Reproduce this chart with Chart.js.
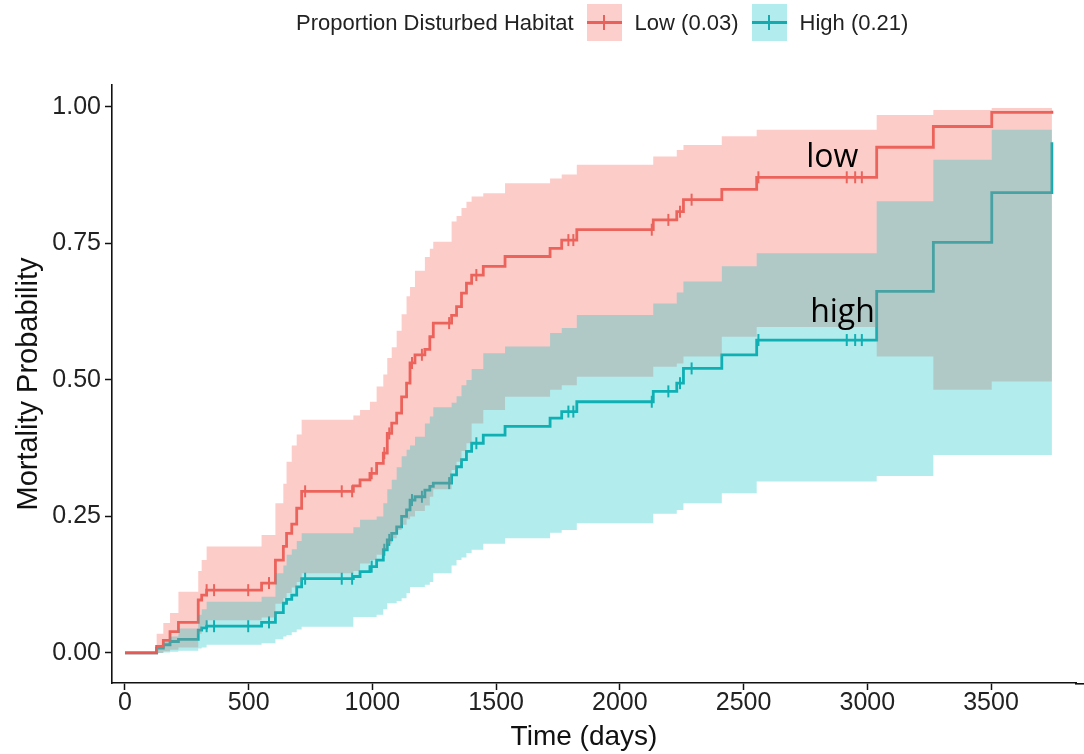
<!DOCTYPE html>
<html>
<head>
<meta charset="utf-8">
<script src="https://cdn.jsdelivr.net/npm/chart.js@4.4.1/dist/chart.umd.min.js"></script>
<style>
  html, body { margin: 0; padding: 0; background: #fff; }
  #wrap { position: relative; width: 1084px; height: 754px; font-family: "Liberation Sans", Arial, sans-serif; }
  #legend { position: absolute; top: 4px; left: 296px; height: 37px; display: flex; align-items: center; font-size: 22px; color: #222; white-space: nowrap; }
  .key { width: 35px; height: 37px; position: relative; margin: 0 13px 0 13px; }
  .key .h { position: absolute; left: 0; right: 0; top: 17px; height: 3px; }
  .key .v { position: absolute; left: 16px; width: 2px; top: 11px; height: 15px; }
</style>
</head>
<body>
<div id="wrap">
  <canvas id="chart" width="1084" height="754"></canvas>
  <div id="legend">
    <span>Proportion Disturbed Habitat</span>
    <div class="key" style="background:#fccfcc"><div class="h" style="background:#e8625b"></div><div class="v" style="background:#e8625b"></div></div>
    <span>Low (0.03)</span>
    <div class="key" style="background:#b3ecee"><div class="h" style="background:#16a9ae"></div><div class="v" style="background:#16a9ae"></div></div>
    <span>High (0.21)</span>
  </div>
</div>
<script>
// step times (days) shared by both adjusted curves
const stepDays = [0, 128, 155, 182, 216, 296, 310, 330, 552, 608,
  640, 653, 674, 694, 714, 923, 950, 990, 1017, 1044,
  1060, 1078, 1098, 1118, 1138, 1152, 1172, 1212, 1232, 1246,
  1320, 1340, 1360, 1380, 1401, 1448, 1536, 1718, 1765, 1826,
  2135, 2230, 2257, 2412, 2553, 3038, 3267, 3503, 3746];

const lowRisk = [0, 0.012, 0.023, 0.039, 0.056, 0.097, 0.106, 0.115, 0.128, 0.170,
  0.195, 0.219, 0.236, 0.265, 0.296, 0.306, 0.317, 0.329, 0.347, 0.366,
  0.402, 0.421, 0.439, 0.469, 0.494, 0.531, 0.546, 0.556, 0.579, 0.604,
  0.618, 0.634, 0.659, 0.677, 0.692, 0.708, 0.726, 0.741, 0.756, 0.775,
  0.793, 0.808, 0.830, 0.849, 0.871, 0.926, 0.964, 0.990, 0.993];

const highRisk = [0, 0.009, 0.015, 0.021, 0.025, 0.042, 0.046, 0.049, 0.056, 0.074,
  0.091, 0.098, 0.106, 0.121, 0.136, 0.140, 0.149, 0.158, 0.170, 0.189,
  0.207, 0.219, 0.231, 0.250, 0.262, 0.280, 0.286, 0.298, 0.305, 0.311,
  0.326, 0.341, 0.354, 0.369, 0.384, 0.399, 0.415, 0.430, 0.442, 0.460,
  0.479, 0.494, 0.521, 0.546, 0.573, 0.662, 0.752, 0.843, 0.935];

const lowUpper = [0, 0.035, 0.055, 0.073, 0.112, 0.15, 0.17, 0.195, 0.216, 0.274,
  0.31, 0.35, 0.38, 0.40, 0.427, 0.435, 0.445, 0.46, 0.488, 0.51,
  0.54, 0.56, 0.59, 0.62, 0.653, 0.67, 0.70, 0.725, 0.74, 0.753,
  0.79, 0.80, 0.815, 0.826, 0.836, 0.842, 0.86, 0.869, 0.876, 0.894,
  0.909, 0.921, 0.930, 0.946, 0.958, 0.985, 0.994, 0.998, 0.998];

const lowLower = [0, 0, 0.003, 0.006, 0.01, 0.035, 0.05, 0.06, 0.065, 0.09,
  0.10, 0.11, 0.12, 0.13, 0.146, 0.15, 0.164, 0.17, 0.18, 0.189,
  0.20, 0.21, 0.225, 0.235, 0.245, 0.25, 0.26, 0.27, 0.286, 0.30,
  0.335, 0.35, 0.37, 0.384, 0.42, 0.445, 0.469, 0.482, 0.49, 0.506,
  0.524, 0.53, 0.543, 0.579, 0.597, 0.543, 0.482, 0.497, 0.497];

const highUpper = [0, 0.01, 0.02, 0.03, 0.045, 0.07, 0.08, 0.094, 0.103, 0.146,
  0.16, 0.18, 0.19, 0.205, 0.219, 0.23, 0.244, 0.244, 0.25, 0.274,
  0.30, 0.317, 0.34, 0.36, 0.372, 0.38, 0.396, 0.42, 0.433, 0.45,
  0.458, 0.47, 0.49, 0.50, 0.52, 0.549, 0.561, 0.586, 0.595, 0.619,
  0.64, 0.66, 0.68, 0.708, 0.732, 0.827, 0.903, 0.958, 0.958];

const highLower = [0, 0, 0.001, 0.002, 0.004, 0.008, 0.01, 0.015, 0.018, 0.025,
  0.03, 0.033, 0.038, 0.043, 0.048, 0.066, 0.066, 0.066, 0.07, 0.08,
  0.091, 0.091, 0.095, 0.10, 0.11, 0.121, 0.121, 0.125, 0.13, 0.146,
  0.16, 0.17, 0.175, 0.183, 0.189, 0.20, 0.21, 0.22, 0.225, 0.2375,
  0.255, 0.262, 0.274, 0.2925, 0.314, 0.324, 0.3626, 0.3626, 0.3626];

// censoring marks
const censorDays = [330, 360, 498, 582, 728, 876, 918, 997, 1048, 1068, 1160, 1200,
  1310, 1420, 1792, 1812, 2129, 2196, 2243, 2290, 2560, 2917, 2951, 2978];
const lowCensor = [0.115, 0.115, 0.115, 0.128, 0.296, 0.296, 0.296, 0.329, 0.366, 0.402, 0.531, 0.546,
  0.604, 0.692, 0.756, 0.756, 0.775, 0.793, 0.808, 0.830, 0.871, 0.871, 0.871, 0.871];
const highCensor = [0.049, 0.049, 0.049, 0.056, 0.136, 0.136, 0.136, 0.158, 0.189, 0.207, 0.280, 0.286,
  0.311, 0.384, 0.442, 0.442, 0.460, 0.479, 0.494, 0.521, 0.573, 0.573, 0.573, 0.573];

const xTicks = [0, 500, 1000, 1500, 2000, 2500, 3000, 3500];
const yTicks = [0, 0.25, 0.5, 0.75, 1];
const yTickLabels = ['0.00', '0.25', '0.50', '0.75', '1.00'];

const curveLabels = [
  { text: 'low', day: 2753, prob: 0.89 },
  { text: 'high', day: 2769, prob: 0.606 }
];

const RED = '#e65a53';
const TEAL = '#16a9ae';
const PINK_FILL = 'rgba(248,118,109,0.37)';
const TEAL_FILL = 'rgba(0,191,196,0.30)';
const AXIS = '#111';
const FONT = '"Liberation Sans", Arial, sans-serif';

function steps(values) {
  return stepDays.map((d, i) => ({ x: d, y: values[i] }));
}
function marks(values) {
  return censorDays.map((d, i) => ({ x: d, y: values[i] }));
}

function curve(values, color) {
  return { data: steps(values), borderColor: color, borderWidth: 2.8, stepped: 'before',
    pointRadius: 0, fill: false, order: 3 };
}
function censor(values, color) {
  return { data: marks(values), showLine: false, pointStyle: 'line', rotation: 90,
    pointRadius: 6, pointBorderWidth: 2, pointBorderColor: color, borderColor: color, order: 3 };
}
function bandEdge(values, fill, color, order) {
  return { data: steps(values), borderWidth: 0, borderColor: 'rgba(0,0,0,0)', stepped: 'before',
    pointRadius: 0, fill: fill, backgroundColor: color, order: order };
}

// "low" / "high" annotations, x axis title, axis line run-out to the right edge
const labelPlugin = {
  id: 'curveLabels',
  afterDatasetsDraw(chart) {
    const { ctx, scales } = chart;
    ctx.save();
    ctx.font = '32px "Open Sans", "Noto Sans", sans-serif';
    ctx.fillStyle = '#000';
    ctx.textAlign = 'left';
    ctx.textBaseline = 'alphabetic';
    curveLabels.forEach(l => {
      ctx.fillText(l.text, scales.x.getPixelForValue(l.day), scales.y.getPixelForValue(l.prob));
    });
    ctx.restore();
  },
  afterDraw(chart) {
    const { ctx, chartArea } = chart;
    ctx.save();
    ctx.strokeStyle = AXIS;
    ctx.lineWidth = 1.6;
    ctx.beginPath();
    ctx.moveTo(chartArea.right - 1, chartArea.bottom + 0.8);
    ctx.lineTo(chart.width, chartArea.bottom + 0.8);
    ctx.stroke();
    ctx.font = '28px ' + FONT;
    ctx.fillStyle = '#111';
    ctx.textAlign = 'center';
    ctx.textBaseline = 'middle';
    ctx.fillText('Time (days)', 584, 737);
    ctx.restore();
  }
};

new Chart(document.getElementById('chart'), {
  type: 'line',
  data: {
    datasets: [
      curve(lowRisk, RED),
      curve(highRisk, TEAL),
      censor(lowCensor, RED),
      censor(highCensor, TEAL),
      bandEdge(lowUpper, '+1', PINK_FILL, 2),
      bandEdge(lowLower, false, PINK_FILL, 2),
      bandEdge(highUpper, '+1', TEAL_FILL, 1),
      bandEdge(highLower, false, TEAL_FILL, 1)
    ]
  },
  options: {
    responsive: false,
    animation: false,
    events: [],
    layout: { padding: { top: 85, left: 0, right: 0, bottom: 0 } },
    plugins: { legend: { display: false }, tooltip: { enabled: false } },
    scales: {
      x: {
        type: 'linear', min: -52.5, max: 3843.5,
        afterBuildTicks: s => { s.ticks = xTicks.map(v => ({ value: v })); },
        afterFit: s => { s.height = 71; },
        grid: { drawOnChartArea: false, tickLength: 7, tickWidth: 1.5, tickColor: AXIS },
        border: { color: AXIS, width: 1.6 },
        ticks: { font: { family: FONT, size: 25 }, color: '#222', padding: -2, maxRotation: 0, autoSkip: false,
          callback: v => String(v) },
        title: { display: false }
      },
      y: {
        type: 'linear', min: -0.055, max: 1.04,
        afterBuildTicks: s => { s.ticks = yTicks.map(v => ({ value: v })); },
        afterFit: s => { s.width = 112; },
        grid: { drawOnChartArea: false, tickLength: 7, tickWidth: 1.5, tickColor: AXIS },
        border: { color: AXIS, width: 1.6 },
        ticks: { font: { family: FONT, size: 25 }, color: '#222', padding: 4,
          callback: (v, i) => yTickLabels[i] },
        title: { display: true, text: 'Mortality Probability', font: { family: FONT, size: 29 }, color: '#111',
          padding: { top: 12, bottom: 0 } }
      }
    }
  },
  plugins: [labelPlugin]
});
</script>
</body>
</html>
